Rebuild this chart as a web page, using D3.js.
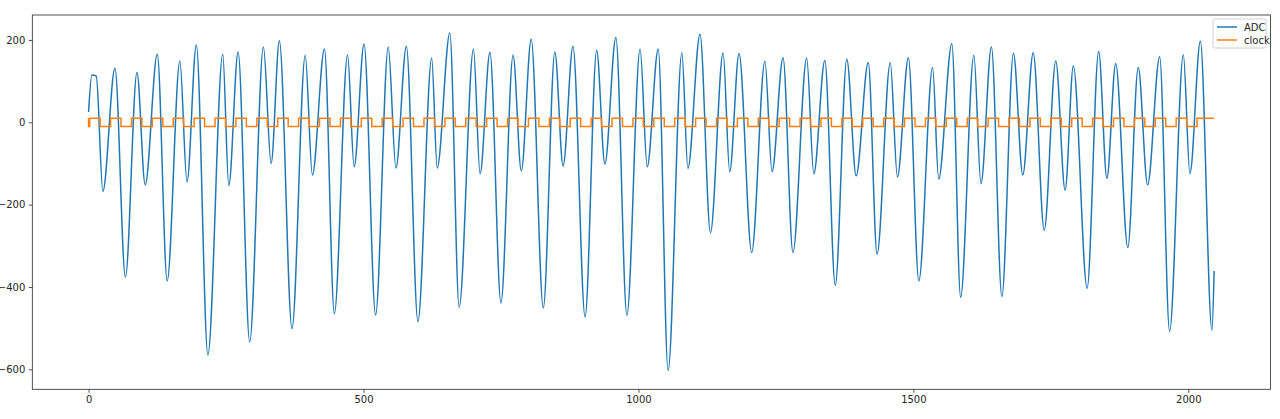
<!DOCTYPE html>
<html>
<head>
<meta charset="utf-8">
<script src="https://cdn.jsdelivr.net/npm/d3@7"></script>
<style>
body { margin: 0; background: #fff; }
text { font-family: "DejaVu Sans", sans-serif; }
</style>
</head>
<body>
<svg id="chart"></svg>
<script>
var svg_width = 1280
var svg_height = 419

// ADC turning points (sample index, value)
var adcX = [0, 6, 14, 26, 48, 67, 88, 103, 125, 143, 166, 179, 196, 217, 244, 255, 272, 293, 318, 332,
  347, 370, 394, 407, 429, 447, 471, 483, 501, 522, 545, 559, 578, 599, 624, 634, 657, 674, 700, 712,
  730, 750, 772, 787, 805, 827, 848, 863, 881, 903, 924, 939, 959, 979, 1003, 1016, 1036, 1054, 1079, 1090,
  1112, 1131, 1154, 1166, 1183, 1206, 1230, 1243, 1263, 1281, 1306, 1319, 1339, 1358, 1379, 1396, 1418, 1434, 1458, 1471,
  1491, 1510, 1535, 1546, 1570, 1586, 1610, 1623, 1642, 1661, 1682, 1699, 1718, 1738, 1759, 1776, 1791, 1816, 1837, 1852,
  1868, 1890, 1909, 1926, 1948, 1966, 1991, 2003, 2022, 2043, 2047]
var adcY = [25, 115, 112, -168, 131, -376, 121, -152, 165, -385, 149, -145, 188, -565, 165, -154, 171, -533, 183, -100,
  198, -501, 163, -128, 178, -465, 164, -108, 190, -468, 183, -111, 185, -484, 156, -111, 217, -449, 178, -125,
  170, -439, 163, -118, 202, -451, 171, -106, 185, -473, 175, -101, 206, -469, 178, -108, 178, -603, 169, -112,
  214, -268, 169, -120, 167, -316, 148, -120, 157, -316, 156, -125, 150, -396, 153, -130, 145, -320, 145, -133,
  157, -385, 133, -138, 191, -425, 163, -149, 183, -423, 168, -128, 169, -262, 149, -165, 137, -403, 172, -136,
  143, -304, 133, -152, 159, -508, 164, -125, 197, -505, -361]

// clock edges (sample index)
var clockRise = [21, 59, 97, 135, 173, 211, 249, 287, 325, 363, 401, 439, 477, 515, 553, 591, 629, 667, 705, 743,
  781, 819, 857, 895, 933, 971, 1009, 1047, 1085, 1123, 1161, 1199, 1237, 1275, 1313, 1351, 1389, 1427, 1465, 1503,
  1541, 1579, 1617, 1655, 1693, 1731, 1769, 1807, 1845, 1883, 1921, 1959, 1997, 2035]
var clockFall = [2, 40, 78, 116, 154, 192, 230, 268, 306, 344, 382, 420, 458, 496, 534, 572, 610, 648, 686, 724,
  762, 800, 838, 876, 914, 952, 990, 1028, 1066, 1104, 1142, 1180, 1218, 1256, 1294, 1332, 1370, 1408, 1446, 1484,
  1522, 1560, 1598, 1636, 1674, 1712, 1750, 1788, 1826, 1864, 1902, 1940, 1978, 2016]
var clockHigh = 10
var clockLow = -10
var clockEnd = 2047

var xTicks = [0, 500, 1000, 1500, 2000]
var yTicks = [-600, -400, -200, 0, 200]
var seriesNames = ["ADC", "clock"]
var colors = ["#1f77b4", "#ff7f0e"]

var pLeft = 32.3, pRight = 1270.4, pTop = 15, pBottom = 389.3

var chart = d3.select("#chart")
.attr("width", svg_width)
.attr("height", svg_height);

var x = d3.scaleLinear().domain([-102.35, 2149.35]).range([pLeft, pRight]);
var y = d3.scaleLinear().domain([-648.5, 260.6]).range([pBottom, pTop]);

var adc = adcX.map(function(d, i) { return [d, adcY[i]]; });

var clock = [[0, clockHigh]];
clockFall.forEach(function(f, i) {
  clock.push([f, clockLow]);
  clock.push([clockRise[i], clockHigh]);
});
clock.push([clockEnd, clockHigh]);

var minus = function(v) { return String(v).replace("-", "\u2212"); };

chart.append("g")
.attr("transform", "translate(0," + pBottom + ")")
.call(d3.axisBottom(x).tickValues(xTicks).tickSize(3.5).tickPadding(3.5).tickFormat(minus))
.call(function(g) { g.select(".domain").remove(); })
.selectAll("text").attr("font-size", 10).attr("fill", "#262626");

chart.append("g")
.attr("transform", "translate(" + pLeft + ",0)")
.call(d3.axisLeft(y).tickValues(yTicks).tickSize(3.5).tickPadding(3.5).tickFormat(minus))
.call(function(g) { g.select(".domain").remove(); })
.selectAll("text").attr("font-size", 10).attr("fill", "#262626");

chart.selectAll(".tick line").attr("stroke", "#262626").attr("stroke-width", 0.8);

chart.append("clipPath").attr("id", "clip")
.append("rect").attr("x", pLeft).attr("y", pTop).attr("width", pRight - pLeft).attr("height", pBottom - pTop);

chart.append("path")
.datum(adc)
.attr("clip-path", "url(#clip)")
.attr("fill", "none")
.attr("stroke", colors[0])
.attr("stroke-width", 1.5)
.attr("d", d3.line().x(function(d) { return x(d[0]); }).y(function(d) { return y(d[1]); }).curve(d3.curveMonotoneX));

chart.append("path")
.datum(clock)
.attr("fill", "none")
.attr("stroke", colors[1])
.attr("stroke-width", 1.5)
.attr("d", d3.line().x(function(d) { return x(d[0]); }).y(function(d) { return y(d[1]); }).curve(d3.curveStepBefore));

chart.append("rect")
.attr("x", pLeft).attr("y", pTop).attr("width", pRight - pLeft).attr("height", pBottom - pTop)
.attr("fill", "none").attr("stroke", "#262626").attr("stroke-width", 0.8);

// legend
var lg = chart.append("g").attr("transform", "translate(1213,19)");
lg.append("rect").attr("width", 53).attr("height", 29).attr("rx", 2)
.attr("fill", "#fff").attr("fill-opacity", 0.8).attr("stroke", "#d0d0d0");
seriesNames.forEach(function(name, i) {
  lg.append("line").attr("x1", 4).attr("x2", 24).attr("y1", 8 + i * 13).attr("y2", 8 + i * 13)
  .attr("stroke", colors[i]).attr("stroke-width", 1.5);
  lg.append("text").attr("x", 31).attr("y", 12 + i * 13).attr("font-size", 10).attr("fill", "#262626").text(name);
});
</script>
</body>
</html>
